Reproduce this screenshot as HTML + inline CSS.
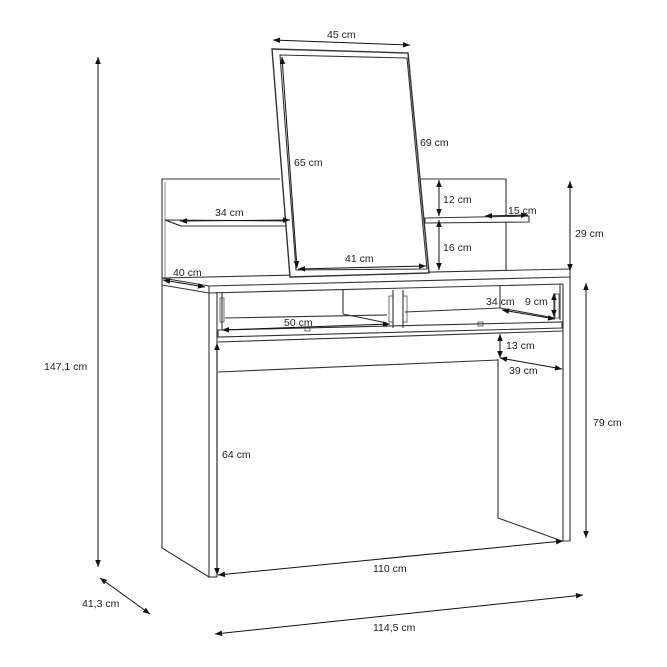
<!DOCTYPE html>
<html><head><meta charset="utf-8"><style>
html,body{margin:0;padding:0;background:#fff;}
svg{display:block;}
text{font-family:"Liberation Sans",sans-serif;font-size:10.5px;fill:#222;}
</style></head><body>
<svg width="667" height="667" viewBox="0 0 667 667" xmlns="http://www.w3.org/2000/svg">
<defs>
<marker id="a" viewBox="0 0 10 10" refX="10" refY="5" markerWidth="9" markerHeight="7" orient="auto-start-reverse" markerUnits="userSpaceOnUse"><path d="M0,1 L10,5 L0,9 z" fill="#111"/></marker>
</defs>
<g fill="none" stroke="#333" stroke-width="1.1">
<!-- back panel -->
<polyline points="162,278 162,179 280,179"/>
<polyline points="420,179 506,179 506,270"/>
<line x1="165" y1="182" x2="165" y2="278" stroke-width="0.6"/>
<!-- shelves -->
<polygon points="165,220 293,221 293,226 181,226" fill="#fff"/>
<line x1="165" y1="220" x2="181" y2="226"/>
<polygon points="425,218 529,216 529,222 425,223" fill="#fff"/>
<!-- top -->
<polygon points="162,278 570,269 570,277 209,286" fill="#fff"/>
<line x1="162" y1="278" x2="162" y2="285"/>
<polyline points="162,285 209,293 563,284"/>
<line x1="209" y1="286" x2="209" y2="293"/>
<!-- mirror -->
<polygon points="272,49 408,53 429,273 290,277" fill="#fff" stroke-width="1.4"/>
<polygon points="280,55 407,58 427,269 296,270"/>
<!-- left side -->
<polyline points="162,285 162,548 209,577 209,293"/>
<line x1="217" y1="292" x2="217" y2="577"/>
<line x1="209" y1="577" x2="217" y2="577"/>
<!-- right side -->
<polyline points="563,284 563,541 570,541 570,277"/>
<polyline points="498,359 498,518 562,541"/>
<!-- apron -->
<line x1="218" y1="342" x2="563" y2="331"/>
<line x1="218" y1="372" x2="498" y2="360"/>
<!-- drawers -->
<polygon points="218,330 562,322 562,328 218,337" fill="#fff"/>
<line x1="225" y1="318" x2="387" y2="315"/>
<line x1="343" y1="290" x2="343" y2="314"/>
<line x1="343" y1="314" x2="387" y2="323"/>
<line x1="393" y1="290" x2="393" y2="328"/>
<line x1="403" y1="290" x2="403" y2="328"/>
<line x1="500" y1="285" x2="500" y2="308"/>
<line x1="405" y1="312" x2="500" y2="308"/>
<line x1="500" y1="308" x2="555" y2="318"/>
<line x1="222" y1="292" x2="222" y2="330"/>
<line x1="560" y1="284" x2="560" y2="320"/>
<rect x="220" y="298" width="4" height="24" stroke-width="0.7"/>
<rect x="389" y="296" width="4" height="26" stroke-width="0.7"/>
<rect x="403" y="296" width="4" height="26" stroke-width="0.7"/>
<rect x="555" y="294" width="4" height="24" stroke-width="0.7"/>
<rect x="305" y="327" width="5" height="4" stroke-width="0.7"/>
<rect x="478" y="322" width="5" height="4" stroke-width="0.7"/>
</g>
<g stroke="#111" stroke-width="1" marker-start="url(#a)" marker-end="url(#a)" fill="none">
<line x1="98" y1="57" x2="98" y2="567"/>
<line x1="100" y1="578" x2="150" y2="614"/>
<line x1="215" y1="634" x2="583" y2="595"/>
<line x1="218" y1="575" x2="563" y2="541"/>
<line x1="217" y1="343" x2="217" y2="575"/>
<line x1="586" y1="283" x2="586" y2="538"/>
<line x1="570" y1="181" x2="570" y2="271"/>
<line x1="500" y1="334" x2="500" y2="358"/>
<line x1="500" y1="358" x2="562" y2="369"/>
<line x1="439" y1="180" x2="439" y2="216"/>
<line x1="439" y1="220" x2="439" y2="270"/>
<line x1="180" y1="221" x2="290" y2="220"/>
<line x1="485" y1="216" x2="528" y2="215"/>
<line x1="282" y1="57" x2="297" y2="268"/>
<line x1="298" y1="269" x2="426" y2="266"/>
<line x1="273" y1="40" x2="410" y2="45"/>
<line x1="163" y1="280" x2="205" y2="287"/>
<line x1="222" y1="330" x2="390" y2="324"/>
<line x1="502" y1="310" x2="555" y2="319"/>
<line x1="554" y1="293" x2="554" y2="317"/>
</g>
<text x="44" y="370">147,1 cm</text>
<text x="82" y="607">41,3 cm</text>
<text x="373" y="631">114,5 cm</text>
<text x="373" y="572">110 cm</text>
<text x="222" y="458">64 cm</text>
<text x="593" y="426">79 cm</text>
<text x="575" y="237">29 cm</text>
<text x="506" y="349">13 cm</text>
<text x="509" y="374">39 cm</text>
<text x="443" y="203">12 cm</text>
<text x="443" y="251">16 cm</text>
<text x="215" y="216">34 cm</text>
<text x="508" y="214">15 cm</text>
<text x="294" y="166">65 cm</text>
<text x="420" y="146">69 cm</text>
<text x="345" y="262">41 cm</text>
<text x="327" y="38">45 cm</text>
<text x="173" y="276">40 cm</text>
<text x="284" y="326">50 cm</text>
<text x="486" y="305">34 cm</text>
<text x="525" y="305">9 cm</text>
</svg>
</body></html>
